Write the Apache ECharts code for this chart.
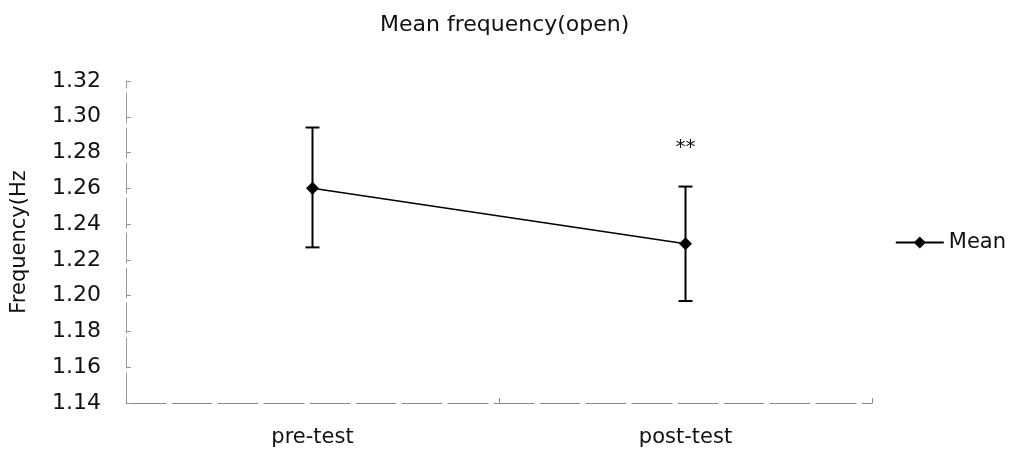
<!DOCTYPE html>
<html>
<head>
<meta charset="utf-8">
<script src="https://cdn.jsdelivr.net/npm/echarts@6/dist/echarts.min.js"></script>
<style>
  html, body { margin: 0; padding: 0; background: #fff; }
  #chart { width: 1021px; height: 452px; }
</style>
</head>
<body>
<div id="chart"></div>
<script>
// Measurement phases
const categories = ['pre-test', 'post-test'];
// Mean frequency (Hz) for each phase
const meanValues = [1.260, 1.229];
// Error bar bounds (Hz)
const lowerValues = [1.227, 1.197];
const upperValues = [1.294, 1.261];
// Significance marker shown above each phase
const markers = ['', '**'];
// Y axis range and step
const yMin = 1.14, yMax = 1.32, yStep = 0.02;

const FONT = '"DejaVu Sans", "Liberation Sans", sans-serif';
const chart = echarts.init(document.getElementById('chart'), null, { renderer: 'canvas' });

const errorData = categories.map((c, i) => [i, lowerValues[i], upperValues[i]]);
const markerData = categories.map((c, i) => [i, upperValues[i]]);

chart.setOption({
  animation: false,
  title: {
    text: 'Mean frequency(open)',
    left: 375,
    top: 9,
    textStyle: { fontFamily: FONT, fontSize: 22, fontWeight: 'normal', color: '#111' }
  },
  legend: {
    data: ['Mean'],
    right: 10,
    top: 227,
    itemWidth: 48,
    itemHeight: 15,
    itemGap: 8,
    textStyle: { fontFamily: FONT, fontSize: 21, color: '#111' }
  },
  grid: { left: 126, right: 149, top: 81, bottom: 49 },
  xAxis: {
    type: 'category',
    data: categories,
    boundaryGap: true,
    axisLine: { lineStyle: { color: '#888', type: [40, 6], width: 1 } },
    axisTick: { show: true, inside: true, length: 5, interval: 0, lineStyle: { color: '#888' } },
    axisLabel: { fontFamily: FONT, fontSize: 21, color: '#111', margin: 24 }
  },
  yAxis: {
    type: 'value',
    min: yMin,
    max: yMax,
    interval: yStep,
    name: 'Frequency(Hz',
    nameLocation: 'middle',
    nameGap: 96,
    nameRotate: 90,
    nameTextStyle: { fontFamily: FONT, fontSize: 21, color: '#111' },
    axisLine: { show: true, lineStyle: { color: '#999', type: [30, 5], width: 1 } },
    axisTick: { show: true, inside: true, length: 5, lineStyle: { color: '#999' } },
    splitLine: { show: false },
    axisLabel: {
      fontFamily: FONT, fontSize: 22, color: '#111', margin: 25,
      formatter: v => v.toFixed(2)
    }
  },
  series: [
    {
      name: 'Mean',
      type: 'line',
      data: meanValues,
      symbol: 'diamond',
      symbolSize: 13,
      lineStyle: { color: '#000', width: 1.5 },
      itemStyle: { color: '#000' },
      z: 3
    },
    {
      name: 'error',
      type: 'custom',
      data: errorData,
      z: 2,
      renderItem: function (params, api) {
        const x = api.value(0);
        const lo = api.coord([x, api.value(1)]);
        const hi = api.coord([x, api.value(2)]);
        const half = 7;
        const style = { stroke: '#000', lineWidth: 2 };
        return {
          type: 'group',
          children: [
            { type: 'line', shape: { x1: hi[0], y1: hi[1], x2: lo[0], y2: lo[1] }, style: style },
            { type: 'line', shape: { x1: hi[0] - half, y1: hi[1], x2: hi[0] + half, y2: hi[1] }, style: style },
            { type: 'line', shape: { x1: lo[0] - half, y1: lo[1], x2: lo[0] + half, y2: lo[1] }, style: style }
          ]
        };
      }
    },
    {
      name: 'sig',
      type: 'custom',
      data: markerData,
      renderItem: function (params, api) {
        const p = api.coord([api.value(0), api.value(1)]);
        return {
          type: 'text',
          x: p[0],
          y: p[1] - 39,
          style: {
            text: markers[params.dataIndex],
            textAlign: 'center',
            textVerticalAlign: 'middle',
            font: '20px ' + FONT,
            fill: '#111'
          }
        };
      }
    }
  ]
});
</script>
</body>
</html>
